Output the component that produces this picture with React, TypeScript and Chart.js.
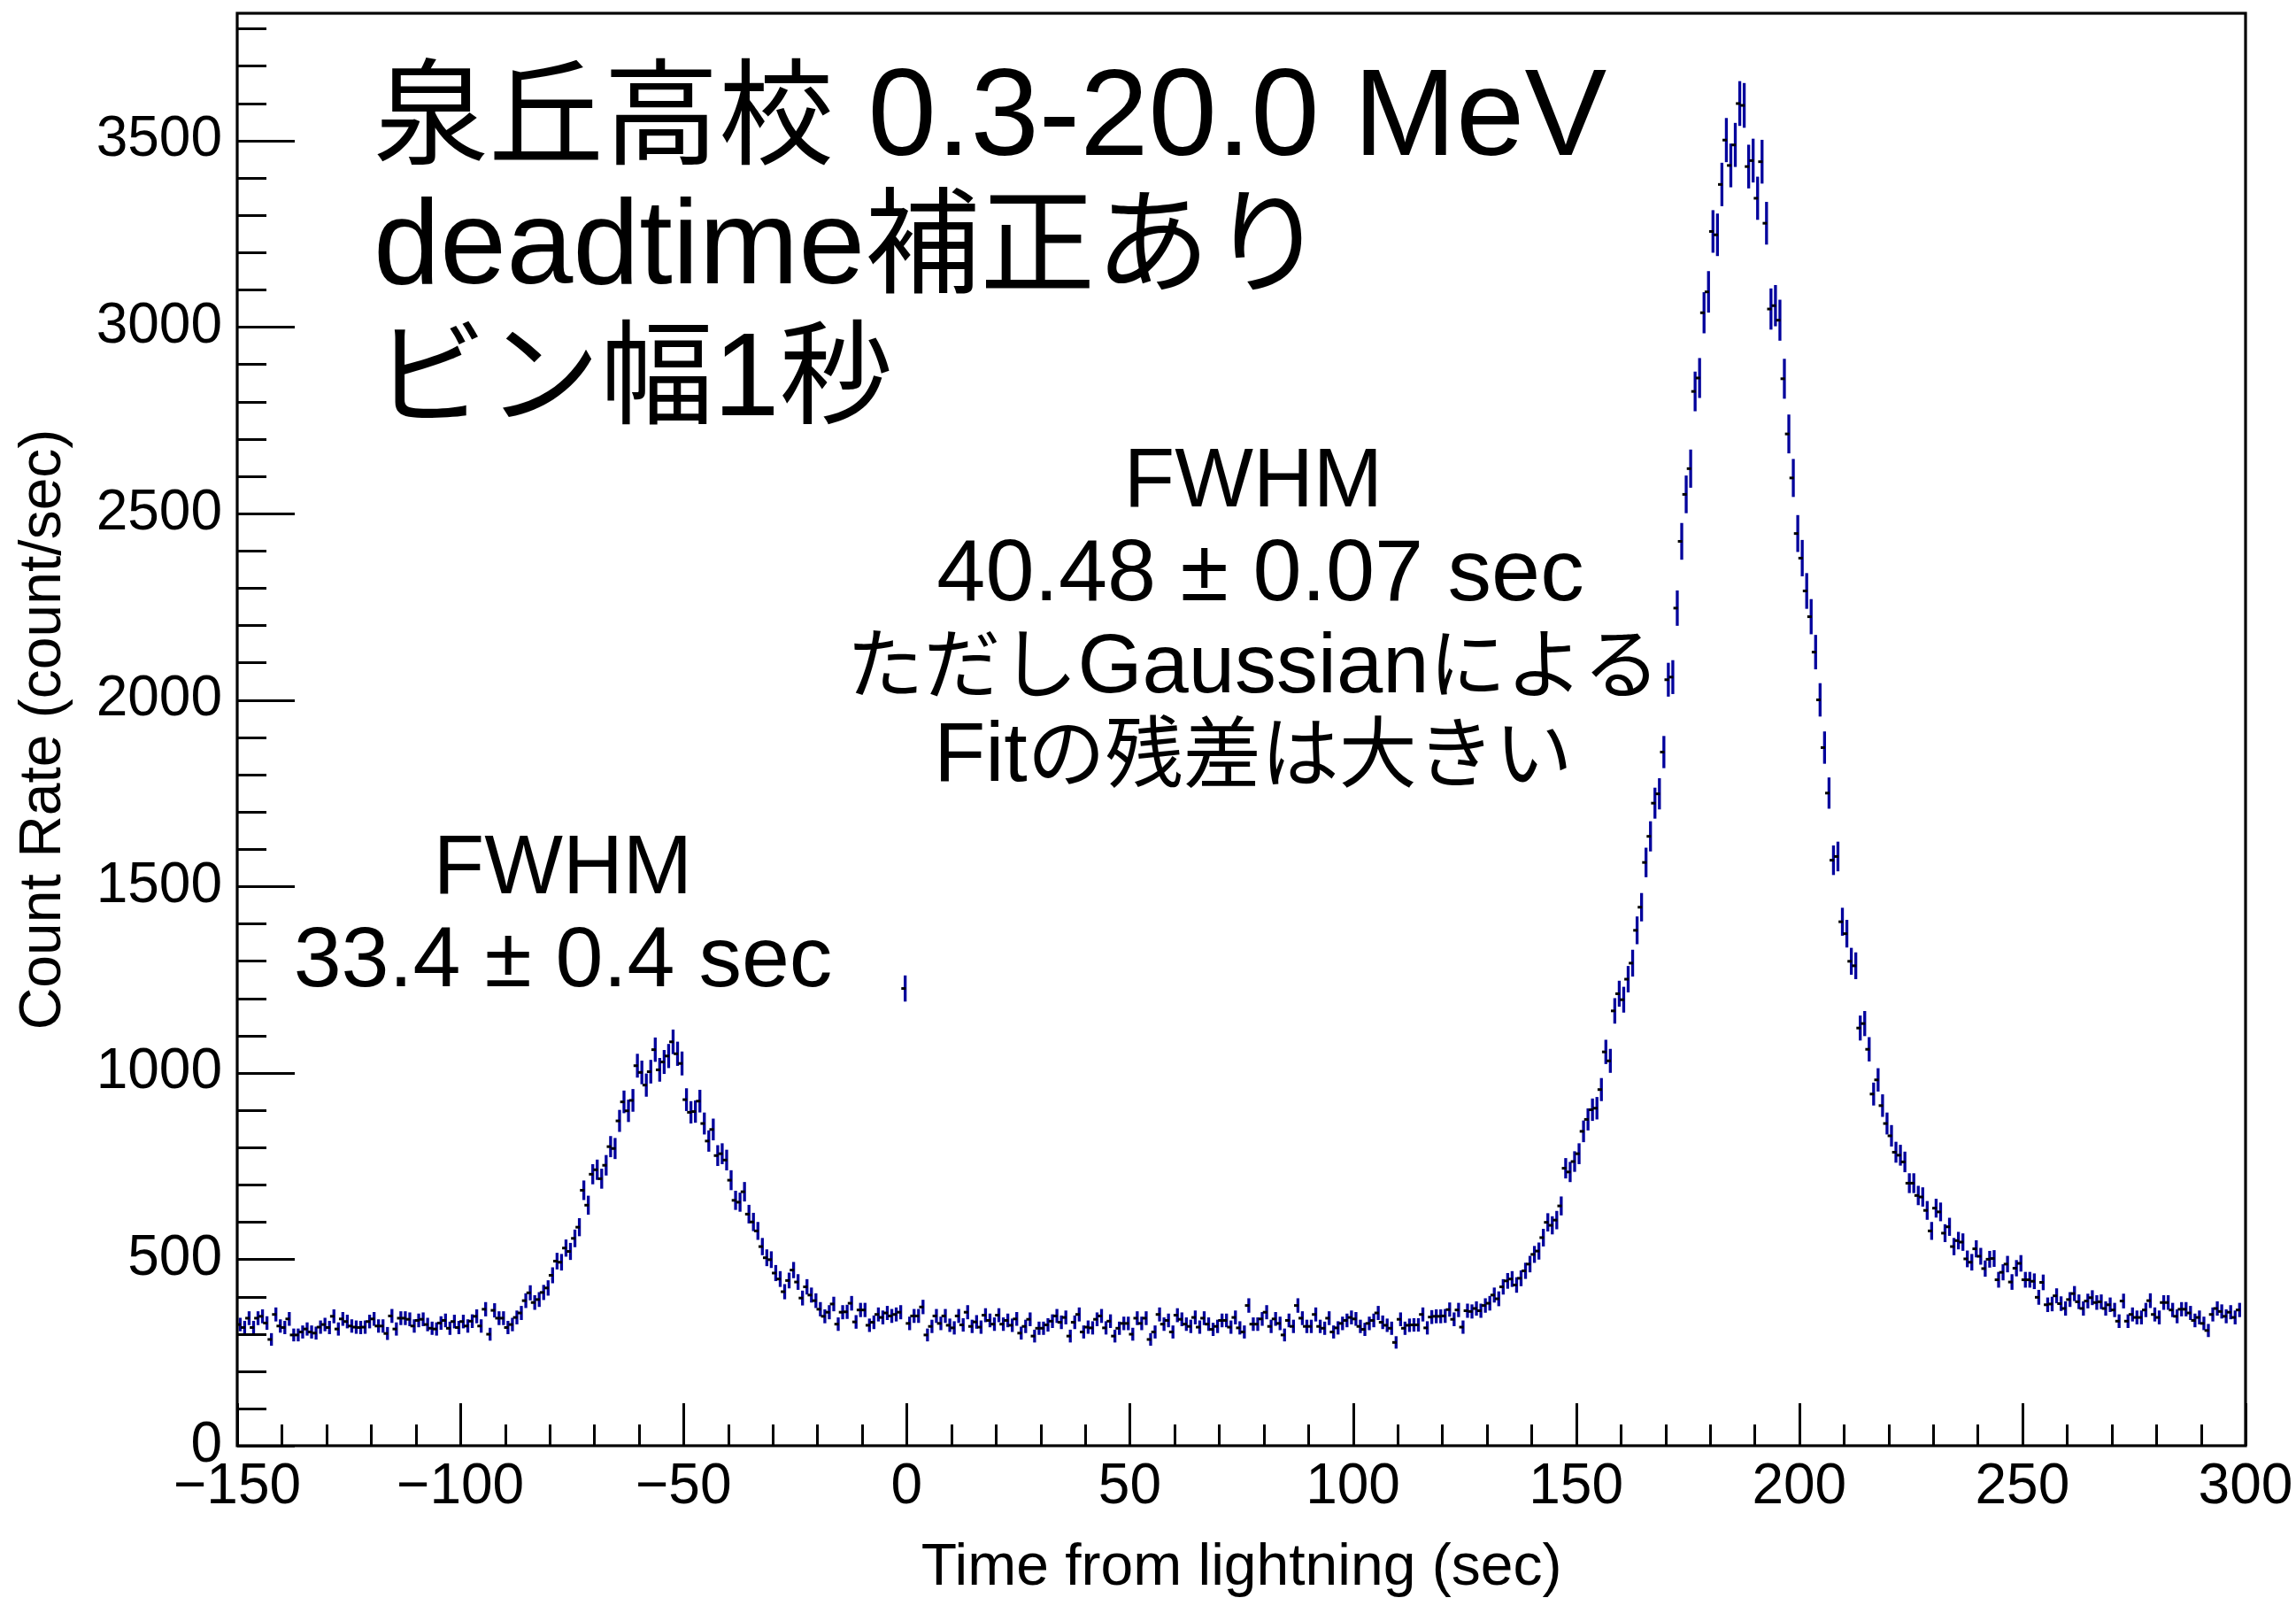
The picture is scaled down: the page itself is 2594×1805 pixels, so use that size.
import { useEffect, useRef } from 'react';
import { Chart, registerables } from 'chart.js';

Chart.register(...registerables);

// Histogram: 1-second bins from -150 s to +300 s (count/sec)
const BIN_START = -150;
const BIN_WIDTH = 1;

// -150 .. -87 s : quiet background
const rateBackgroundEarly = [
  325, 317, 342, 317, 342, 347, 329, 285, 352, 321,
  317, 340, 297, 297, 305, 313, 305, 302, 318, 325,
  317, 347, 313, 340, 333, 321, 318, 317, 318, 333,
  340, 321, 321, 301, 348, 313, 342, 342, 339, 321,
  336, 339, 325, 315, 313, 329, 336, 315, 333, 317,
  333, 321, 334, 347, 321, 366, 299, 363, 342, 342,
  317, 325, 344, 356,
];

// -86 .. -14 s : first burst
const rateFirstBurst = [
  389, 410, 384, 392, 411, 423, 457, 495, 492, 530,
  521, 556, 586, 685, 645, 728, 740, 716, 752, 802,
  797, 871, 922, 898, 926, 1019, 1001, 967, 1003, 1062,
  1008, 1029, 1045, 1083, 1051, 1025, 928, 894, 896, 924,
  864, 817, 848, 778, 783, 766, 712, 658, 653, 681,
  621, 600, 576, 534, 504, 499, 463, 447, 413, 443,
  471, 439, 396, 426, 404, 389, 366, 347, 358, 380,
  326, 358,
];

// -13 .. 129 s : background between bursts (incl. the spike at 0 s)
const rateBackgroundMiddle = [
  359, 382, 332, 364, 364, 323, 331, 352, 344, 356,
  348, 352, 358, 1226, 328, 348, 348, 372, 297, 320,
  348, 328, 348, 323, 316, 348, 324, 358, 320, 332,
  318, 350, 336, 326, 350, 326, 336, 323, 340, 302,
  320, 339, 294, 315, 315, 324, 334, 348, 331, 344,
  294, 331, 352, 305, 318, 316, 339, 348, 316, 334,
  294, 315, 328, 328, 299, 342, 328, 342, 285, 305,
  352, 326, 336, 305, 350, 339, 326, 320, 344, 318,
  342, 326, 312, 320, 336, 336, 318, 344, 316, 305,
  376, 326, 326, 340, 358, 320, 340, 328, 297, 336,
  320, 376, 342, 320, 320, 352, 320, 315, 342, 305,
  316, 328, 336, 344, 340, 320, 312, 328, 336, 356,
  331, 323, 315, 277, 339, 315, 323, 324, 324, 352,
  316, 345, 347, 347, 348, 365, 339, 364, 318, 362,
  360, 368, 362,
];

// 130 .. 172 s : rise of the main burst
const rateMainRise = [
  376, 382, 404, 394, 426, 442, 447, 431, 449, 469,
  487, 513, 522, 558, 599, 591, 605, 643, 744, 734,
  762, 783, 843, 875, 901, 905, 955, 1056, 1032, 1166,
  1212, 1196, 1251, 1294, 1382, 1444, 1564, 1634, 1723, 1748,
  1860, 2054, 2061,
];

// 173 .. 209 s : top of the main burst
const rateMainPeak = [
  2246, 2425, 2551, 2620, 2827, 2863, 3038, 3094, 3256, 3247,
  3382, 3501, 3433, 3488, 3599, 3594, 3430, 3446, 3345, 3443,
  3278, 3048, 3057, 3018, 2861, 2713, 2595, 2446, 2380, 2292,
  2223, 2128, 2000, 1872, 1750, 1570, 1580,
];

// 210 .. 299 s : decay tail
const rateMainTail = [
  1405, 1373, 1299, 1287, 1120, 1132, 1063, 943, 981, 912,
  864, 831, 787, 779, 761, 704, 704, 671, 667, 631,
  576, 637, 627, 570, 587, 534, 550, 546, 501, 492,
  528, 508, 475, 500, 502, 445, 465, 487, 439, 476,
  489, 445, 445, 441, 398, 438, 378, 380, 402, 381,
  368, 392, 408, 386, 368, 388, 397, 384, 386, 368,
  378, 364, 334, 388, 334, 352, 344, 344, 364, 389,
  352, 344, 384, 384, 364, 347, 366, 366, 356, 336,
  344, 328, 309, 352, 368, 360, 347, 358, 344, 364,
];

const countRates = [
  ...rateBackgroundEarly,
  ...rateFirstBurst,
  ...rateBackgroundMiddle,
  ...rateMainRise,
  ...rateMainPeak,
  ...rateMainTail,
];

const xTickValues = [-150, -100, -50, 0, 50, 100, 150, 200, 250, 300];
const yTickValues = [0, 500, 1000, 1500, 2000, 2500, 3000, 3500];
const X_MIN = -150;
const X_MAX = 300;
const Y_MAX = 3841;

const titleLines = ['泉丘高校 0.3-20.0 MeV', 'deadtime補正あり', 'ビン幅1秒'];
const mainFwhmLines = ['FWHM', '40.48 ± 0.07 sec', 'ただしGaussianによる', 'Fitの残差は大きい'];
const firstFwhmLines = ['FWHM', '33.4 ± 0.4 sec'];
const xAxisTitle = 'Time from lightning (sec)';
const yAxisTitle = 'Count Rate (count/sec)';

const LATIN = '"Liberation Sans", Arial, sans-serif';
const CJK = '"Noto Sans CJK JP", "Noto Sans CJK SC", sans-serif';

const W = 2594;
const H = 1805;
const AREA = { left: 268, right: 2537, top: 15, bottom: 1633 };

function drawRuns(
  ctx: CanvasRenderingContext2D,
  text: string,
  x: number,
  y: number,
  align: 'left' | 'center',
  cjkPx: number,
  latinPx: number,
) {
  const runs: { cjk: boolean; s: string }[] = [];
  for (const ch of Array.from(text)) {
    const cjk = /[\u3000-\u30ff\u3400-\u9fff\uff00-\uffef]/.test(ch);
    const last = runs[runs.length - 1];
    if (last && last.cjk === cjk) last.s += ch;
    else runs.push({ cjk, s: ch });
  }
  const fontFor = (r: { cjk: boolean }) => (r.cjk ? `${cjkPx}px ${CJK}` : `${latinPx}px ${LATIN}`);
  let total = 0;
  const widths = runs.map((r) => {
    ctx.font = fontFor(r);
    const w = ctx.measureText(r.s).width;
    total += w;
    return w;
  });
  let cx = align === 'center' ? x - total / 2 : x;
  ctx.textAlign = 'left';
  runs.forEach((r, i) => {
    ctx.font = fontFor(r);
    ctx.fillText(r.s, cx, y);
    cx += widths[i];
  });
}

const errorBarPlugin = {
  id: 'rootErrorBars',
  afterDatasetsDraw(chart: any) {
    const { ctx, chartArea } = chart;
    const xs = chart.scales.x;
    const ys = chart.scales.y;
    const pts = chart.data.datasets[0].data as { x: number; y: number }[];
    ctx.save();
    ctx.beginPath();
    ctx.rect(chartArea.left, chartArea.top, chartArea.right - chartArea.left, chartArea.bottom - chartArea.top);
    ctx.clip();
    for (const p of pts) {
      const px = xs.getPixelForValue(p.x);
      const py = ys.getPixelForValue(p.y);
      const err = Math.sqrt(p.y);
      const top = ys.getPixelForValue(p.y + err);
      const bot = ys.getPixelForValue(p.y - err);
      ctx.fillStyle = '#00009c';
      ctx.fillRect(px - 0.8, top, 3.3, bot - top);
      const xl = xs.getPixelForValue(p.x - BIN_WIDTH / 2);
      const xr = xs.getPixelForValue(p.x + BIN_WIDTH / 2);
      ctx.fillStyle = '#000000';
      ctx.fillRect(xl - 1, py - 1.5, xr - xl, 3);
    }
    ctx.restore();
  },
};

const framePlugin = {
  id: 'rootFrame',
  afterDraw(chart: any) {
    const { ctx, chartArea } = chart;
    const xs = chart.scales.x;
    const ys = chart.scales.y;
    ctx.save();
    ctx.strokeStyle = '#000';
    ctx.lineWidth = 3;
    ctx.beginPath();
    for (let v = 0; v <= Y_MAX; v += 100) {
      const py = Math.round(ys.getPixelForValue(v)) + 0.5;
      const len = v % 500 === 0 ? 65 : 33;
      ctx.moveTo(chartArea.left, py);
      ctx.lineTo(chartArea.left + len, py);
    }
    for (let v = X_MIN; v <= X_MAX; v += 10) {
      const px = Math.round(xs.getPixelForValue(v)) + 0.5;
      const len = v % 50 === 0 ? 48 : 24;
      ctx.moveTo(px, chartArea.bottom);
      ctx.lineTo(px, chartArea.bottom - len);
    }
    ctx.stroke();
    ctx.lineWidth = 3.2;
    ctx.strokeRect(chartArea.left, chartArea.top, chartArea.right - chartArea.left, chartArea.bottom - chartArea.top);
    ctx.restore();
  },
};

const annotationPlugin = {
  id: 'annotations',
  afterDraw(chart: any) {
    const { ctx } = chart;
    ctx.save();
    ctx.fillStyle = '#000';
    ctx.textBaseline = 'alphabetic';
    const titleBase = [175, 320, 469];
    const titleLatin = [139, 135, 134];
    const titleCjk = [130, 130, 128];
    titleLines.forEach((t, i) => drawRuns(ctx, t, 422, titleBase[i], 'left', titleCjk[i], titleLatin[i]));
    const mainBase = [572, 678, 782, 882];
    const mainLatin = [94, 99, 94, 95];
    const mainCjk = [88, 88, 87, 88];
    const mainX = [1416, 1424, 1416, 1416];
    mainFwhmLines.forEach((t, i) => drawRuns(ctx, t, mainX[i], mainBase[i], 'center', mainCjk[i], mainLatin[i]));
    const firstBase = [1009, 1114];
    const firstLatin = [94, 97];
    firstFwhmLines.forEach((t, i) => drawRuns(ctx, t, 636, firstBase[i], 'center', 88, firstLatin[i]));
    ctx.restore();
  },
};

export default function App() {
  const canvasRef = useRef<HTMLCanvasElement | null>(null);

  useEffect(() => {
    const canvas = canvasRef.current;
    if (!canvas) return;
    const points = countRates.map((v, i) => ({ x: BIN_START + (i + 0.5) * BIN_WIDTH, y: v }));
    const chart = new Chart(canvas, {
      type: 'scatter',
      data: {
        datasets: [
          {
            label: 'Count rate',
            data: points,
            pointRadius: 0,
            pointHoverRadius: 0,
            showLine: false,
          },
        ],
      },
      options: {
        responsive: false,
        animation: false,
        devicePixelRatio: 1,
        events: [],
        layout: { padding: { left: 0, top: AREA.top, right: W - AREA.right, bottom: 0 } },
        plugins: {
          legend: { display: false },
          tooltip: { enabled: false },
          title: { display: false },
        },
        scales: {
          x: {
            type: 'linear',
            min: X_MIN,
            max: X_MAX,
            grid: { display: false, drawTicks: false },
            border: { display: false },
            afterFit: (s: any) => {
              s.height = H - AREA.bottom;
              s.paddingLeft = 0;
              s.paddingRight = 0;
            },
            afterBuildTicks: (s: any) => {
              s.ticks = xTickValues.map((v) => ({ value: v }));
            },
            ticks: {
              autoSkip: false,
              maxRotation: 0,
              minRotation: 0,
              padding: 9,
              color: '#000',
              font: { family: LATIN, size: 64 },
              callback: (v: any) => (Number(v) < 0 ? '\u2212' + Math.abs(Number(v)) : String(v)),
            },
            title: {
              display: true,
              text: xAxisTitle,
              color: '#000',
              font: { family: LATIN, size: 66, lineHeight: 1 },
              padding: { top: 0, bottom: 0 },
            },
          },
          y: {
            type: 'linear',
            min: 0,
            max: Y_MAX,
            grid: { display: false, drawTicks: false },
            border: { display: false },
            afterFit: (s: any) => {
              s.width = AREA.left;
              s.paddingTop = 0;
              s.paddingBottom = 0;
            },
            afterBuildTicks: (s: any) => {
              s.ticks = yTickValues.map((v) => ({ value: v }));
            },
            ticks: {
              autoSkip: false,
              padding: 17,
              color: '#000',
              font: { family: LATIN, size: 64, lineHeight: 0.3 },
              callback: (v: any) => String(v),
            },
            title: {
              display: true,
              text: yAxisTitle,
              color: '#000',
              font: { family: LATIN, size: 66, lineHeight: 1 },
              padding: { top: 17, bottom: 0 },
            },
          },
        },
      },
      plugins: [errorBarPlugin, framePlugin, annotationPlugin],
    });
    return () => chart.destroy();
  }, []);

  return (
    <div style={{ position: 'absolute', left: 0, top: 0, width: W, height: H, background: '#fff' }}>
      <canvas ref={canvasRef} width={W} height={H} style={{ display: 'block', width: W, height: H }} />
    </div>
  );
}
